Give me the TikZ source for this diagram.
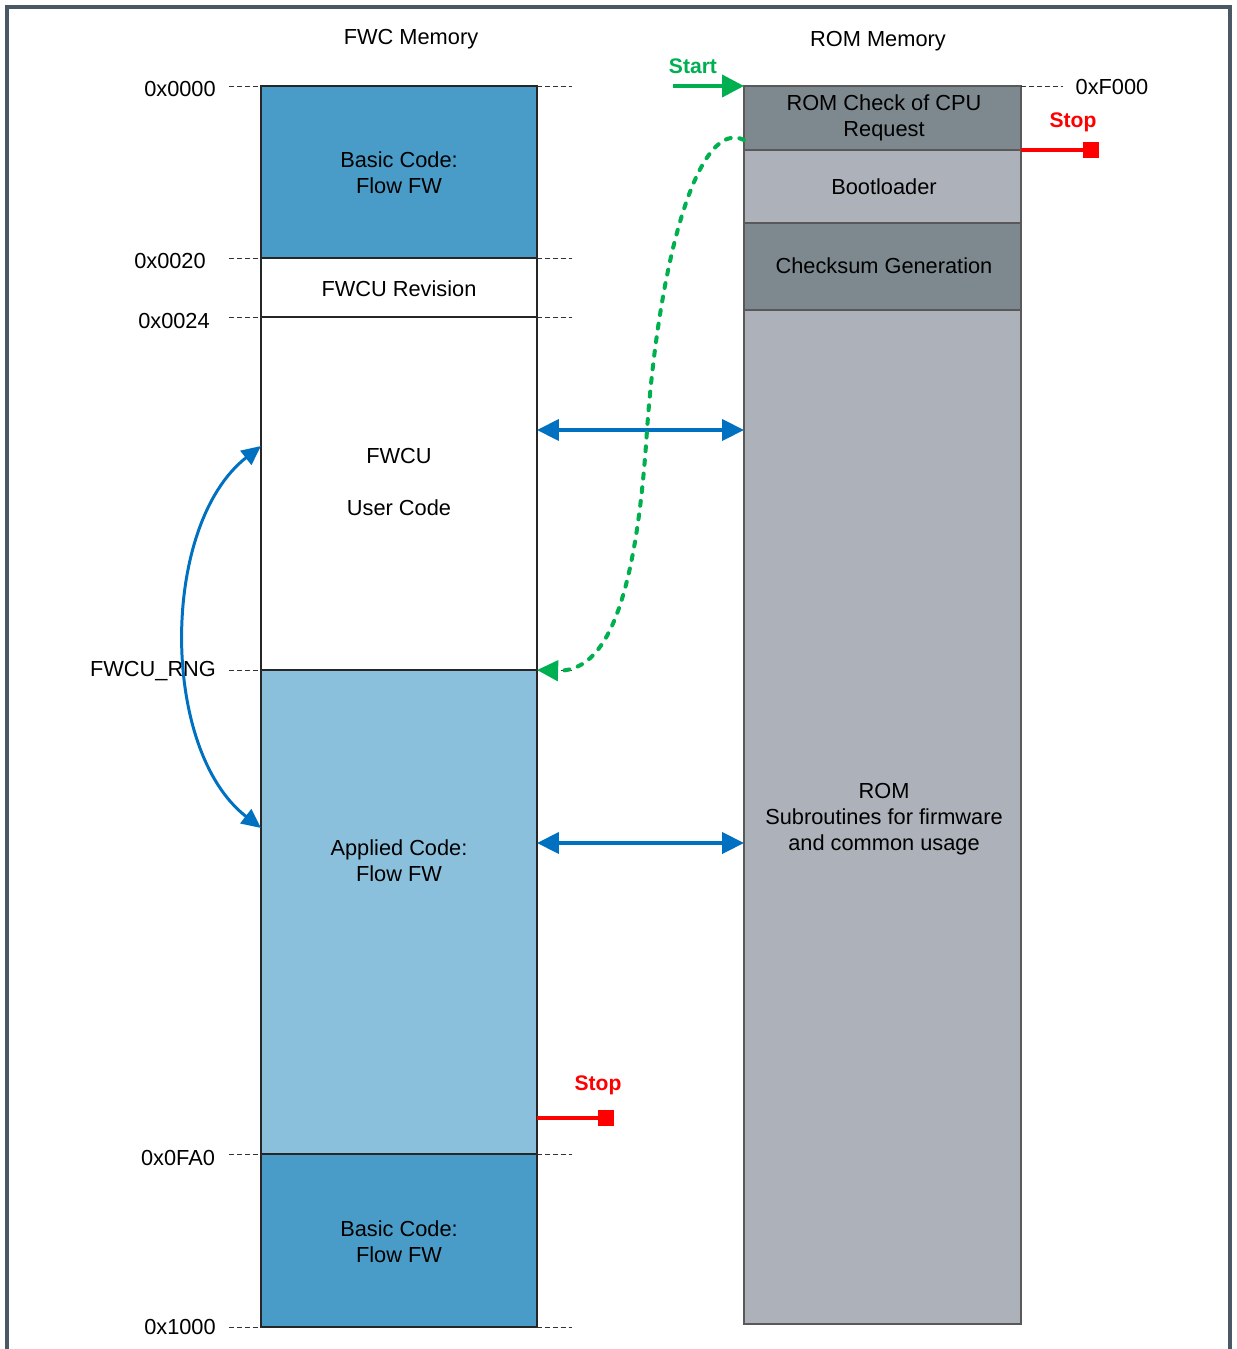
\documentclass[tikz,border=0pt]{standalone}
\usepackage{fontspec}
\setmainfont{Liberation Sans}
\usetikzlibrary{arrows.meta,fit}

\definecolor{framegray}{HTML}{4A5866}
\definecolor{basicblue}{HTML}{4A9CC8}
\definecolor{appblue}{HTML}{8AC0DC}
\definecolor{romdark}{HTML}{7E898F}
\definecolor{romlight}{HTML}{ADB1B9}
\definecolor{busblue}{HTML}{0070C0}
\definecolor{startgreen}{HTML}{00B050}
\definecolor{stopred}{HTML}{FF0000}

\tikzset{
  block/.style={draw=black!85, line width=0.6pt, inner sep=0pt, outer sep=0pt},
  romblock/.style={draw=black!65, line width=0.6pt, inner sep=0pt, outer sep=0pt},
  txt/.style={font=\fontsize{12.4}{14.7}\selectfont, align=center, inner sep=1pt},
  tag/.style={font=\fontsize{12}{14}\selectfont\bfseries, inner sep=1pt},
  addr/.style={draw=black!80, line width=0.55pt, dash pattern=on 2.8pt off 1.7pt},
  bus/.style={draw=busblue, line width=2.2pt, {Triangle[length=12.5pt,width=12pt]}-{Triangle[length=12.5pt,width=12pt]}},
}

\begin{document}
\begin{tikzpicture}[x=0.02cm, y=-0.02cm]
    \useasboundingbox (0,0) rectangle (1237,1349);
    % outer frame, open at the bottom
    \draw[framegray, line width=2.3pt] (7,1349) -- (7,7) -- (1230,7) -- (1230,1349);

    % FWC memory column
    \node[block, fill=basicblue, fit={(261,86) (537,258)}] (basictop) {};
    \node[block, fill=white, fit={(261,258) (537,317)}] (revision) {};
    \node[block, fill=white, fit={(261,317) (537,670)}] (usercode) {};
    \node[block, fill=appblue, fit={(261,670) (537,1154)}] (appcode) {};
    \node[block, fill=basicblue, fit={(261,1154) (537,1327)}] (basicbot) {};

    \node[txt] (basictoptxt) at (399,173) {Basic Code:\\Flow FW};
    \node[txt] (revisiontxt) at (399,289) {FWCU Revision};
    \node[txt] (usercodetxt) at (399,482) {FWCU\\[14.5pt]User Code};
    \node[txt] (appcodetxt) at (399,861) {Applied Code:\\Flow FW};
    \node[txt] (basicbottxt) at (399,1242) {Basic Code:\\Flow FW};

    % ROM column
    \node[romblock, fill=romdark, fit={(744,86) (1021,150)}] (romcheck) {};
    \node[romblock, fill=romlight, fit={(744,150) (1021,223)}] (bootloader) {};
    \node[romblock, fill=romdark, fit={(744,223) (1021,310)}] (checksum) {};
    \node[romblock, fill=romlight, fit={(744,310) (1021,1324)}] (romsub) {};

    \node[txt] (romchecktxt) at (884,118) {ROM Check of CPU\\Request};
    \node[txt] (bootloadertxt) at (884,187) {Bootloader};
    \node[txt] (checksumtxt) at (884,266) {Checksum Generation};
    \node[txt] (romsubtxt) at (884,819) {ROM\\Subroutines for firmware\\and common usage};

    % titles
    \node[txt] (fwctitle) at (411,39) {FWC Memory};
    \node[txt] (romtitle) at (878,41) {ROM Memory};

    % address ticks
    \foreach \y in {86,258,317,670,1154,1327} {
        \draw[addr] (229,\y) -- (261,\y);
        \draw[addr] (537,\y) -- (572,\y);
    }
    \draw[addr] (romcheck.north east) -- (1063,86);
    \node[txt] (a0000) at (180,89) {0x0000};
    \node[txt] (a0020) at (170,261) {0x0020};
    \node[txt] (a0024) at (174,321) {0x0024};
    \node[txt] (arng) at (153,671) {FWCU\_RNG};
    \node[txt] (a0fa0) at (178,1158) {0x0FA0};
    \node[txt] (a1000) at (180,1327) {0x1000};
    \node[txt] (af000) at (1112,87) {0xF000};

    % data paths between the two memories
    \draw[bus] (usercode.east |- 0,430) -- (romsub.west |- 0,430);
    \draw[bus] (appcode.east |- 0,843) -- (romsub.west |- 0,843);
    \draw[draw=busblue, line width=1.7pt, {Triangle[length=11pt,width=10pt]}-{Triangle[length=11pt,width=10pt]}]
        (usercode.west |- 0,446) .. controls (160,525) and (160,750) .. (appcode.west |- 0,828);

    % start of the check, jump into the range
    \node[tag, text=startgreen] (start) at (693,66) {Start};
    \coordinate (startfrom) at (673,86);
    \draw[startgreen, line width=2.3pt, -{Triangle[length=12.5pt,width=12.5pt]}] (startfrom) -- (romcheck.north west);
    \draw[startgreen, line width=2.3pt, line cap=round, dash pattern=on 2.8pt off 5pt, -{Triangle[length=12pt,width=11.5pt]}]
        (romcheck.west |- 0,140) .. controls (700,118) and (660,250) .. (647,430)
        .. controls (635,620) and (600,672) .. (appcode.north east);

    % stop points
    \node[tag, text=stopred] (romstoplbl) at (1073,122) {Stop};
    \coordinate (romstop) at (1099,150);
    \draw[stopred, line width=2.3pt, -{Square[length=9pt,width=9pt]}] (romcheck.south east) -- (romstop);
    \node[tag, text=stopred] (appstoplbl) at (598,1085) {Stop};
    \coordinate (appstop) at (614,1118);
    \draw[stopred, line width=2.3pt, -{Square[length=9pt,width=9pt]}] (appcode.east |- appstop) -- (appstop);
\end{tikzpicture}
\end{document}
